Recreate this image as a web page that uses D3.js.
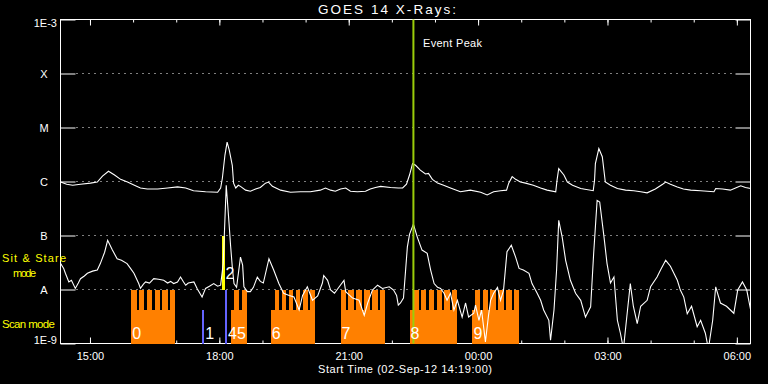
<!DOCTYPE html>
<html>
<head>
<meta charset="utf-8">
<script src="https://cdn.jsdelivr.net/npm/d3@7"></script>
<style>
  html, body { margin: 0; padding: 0; background: #000; }
  svg { display: block; }
  text { font-family: "Liberation Sans", Arial, sans-serif; }
</style>
</head>
<body>
<svg id="chart" width="768" height="384"></svg>
<script>
// ---------------- DATA ----------------
// times in hours since 2012-09-02 00:00 UT, values are log10 flux (W/m^2)
const startHour = 14 + 19 / 60;
const endHour = 30 + 19 / 60;

const longChannel = [
  [14.32,-6.01],[14.46,-6.05],[14.60,-6.07],[14.78,-6.05],[15.01,-6.03],[15.17,-6.01],[15.29,-5.90],[15.43,-5.81],
  [15.57,-5.88],[15.71,-5.96],[15.87,-6.01],[16.03,-6.07],[16.17,-6.12],[16.33,-6.14],[16.57,-6.14],[16.80,-6.12],
  [17.03,-6.10],[17.22,-6.12],[17.40,-6.17],[17.68,-6.19],[17.96,-6.20],[18.03,-6.12],[18.07,-5.94],[18.13,-5.51],
  [18.18,-5.27],[18.23,-5.42],[18.30,-5.70],[18.33,-6.03],[18.38,-6.12],[18.44,-6.07],[18.49,-6.09],[18.61,-6.16],
  [18.72,-6.18],[18.84,-6.14],[18.95,-6.11],[19.07,-6.03],[19.14,-6.01],[19.23,-6.09],[19.42,-6.16],[19.65,-6.20],
  [19.88,-6.19],[20.11,-6.19],[20.34,-6.16],[20.46,-6.12],[20.58,-6.16],[20.69,-6.18],[20.81,-6.14],[20.93,-6.12],
  [21.04,-6.18],[21.20,-6.19],[21.39,-6.18],[21.50,-6.14],[21.62,-6.11],[21.74,-6.09],[21.97,-6.11],[22.15,-6.12],
  [22.25,-6.12],[22.34,-6.05],[22.41,-5.88],[22.48,-5.67],[22.55,-5.70],[22.66,-5.79],[22.78,-5.86],[22.85,-5.85],
  [22.94,-5.96],[23.06,-6.03],[23.20,-6.07],[23.36,-6.12],[23.59,-6.19],[23.82,-6.16],[24.06,-6.20],[24.21,-6.25],
  [24.36,-6.19],[24.52,-6.17],[24.66,-6.16],[24.71,-6.03],[24.79,-5.91],[24.87,-5.96],[24.98,-6.01],[25.10,-6.03],
  [25.28,-6.07],[25.45,-6.12],[25.60,-6.16],[25.80,-6.19],[25.83,-5.98],[25.87,-5.76],[25.99,-5.88],[26.07,-6.01],
  [26.19,-6.07],[26.38,-6.13],[26.67,-6.17],[26.70,-5.98],[26.72,-5.67],[26.80,-5.39],[26.88,-5.54],[26.95,-6.01],
  [27.07,-6.07],[27.23,-6.13],[27.42,-6.16],[27.61,-6.17],[27.77,-6.19],[27.92,-6.21],[28.11,-6.14],[28.28,-6.05],
  [28.35,-6.01],[28.46,-6.05],[28.62,-6.10],[28.76,-6.14],[28.93,-6.16],[29.16,-6.17],[29.47,-6.19],[29.51,-6.13],
  [29.67,-6.14],[29.85,-6.16],[29.97,-6.12],[30.09,-6.08],[30.20,-6.11],[30.32,-6.13]
];

const shortChannel = [
  [14.32,-7.52],[14.39,-7.61],[14.43,-7.70],[14.51,-7.86],[14.57,-7.83],[14.66,-7.98],[14.73,-7.88],[14.78,-7.80],
  [14.87,-7.75],[14.94,-7.70],[15.06,-7.66],[15.17,-7.64],[15.24,-7.52],[15.34,-7.31],[15.41,-7.09],[15.52,-7.27],
  [15.63,-7.43],[15.73,-7.46],[15.86,-7.52],[15.94,-7.61],[16.02,-7.70],[16.13,-7.89],[16.17,-7.98],[16.24,-7.90],
  [16.29,-7.86],[16.38,-7.88],[16.48,-7.80],[16.59,-7.81],[16.71,-7.83],[16.80,-7.88],[16.87,-7.85],[16.94,-7.89],
  [17.03,-7.86],[17.10,-7.77],[17.17,-7.86],[17.22,-7.92],[17.28,-7.88],[17.41,-7.86],[17.49,-7.99],[17.60,-8.14],
  [17.68,-7.98],[17.77,-7.94],[17.87,-7.89],[17.96,-7.94],[18.03,-7.92],[18.09,-7.52],[18.12,-6.90],[18.16,-6.07],
  [18.22,-6.72],[18.26,-7.18],[18.30,-7.58],[18.34,-7.89],[18.40,-7.96],[18.49,-7.40],[18.54,-7.55],[18.57,-7.95],
  [18.65,-8.04],[18.72,-8.04],[18.79,-7.96],[18.88,-7.77],[18.95,-7.85],[19.02,-7.88],[19.15,-7.43],[19.26,-7.64],
  [19.38,-7.89],[19.49,-8.07],[19.62,-8.11],[19.73,-8.14],[19.85,-8.38],[19.93,-8.11],[20.04,-7.95],[20.16,-8.20],
  [20.28,-8.12],[20.39,-7.88],[20.42,-7.74],[20.51,-7.83],[20.58,-8.01],[20.67,-8.07],[20.78,-7.95],[20.89,-7.83],
  [20.93,-8.04],[21.09,-8.16],[21.24,-8.20],[21.36,-8.48],[21.44,-8.25],[21.55,-8.01],[21.67,-7.92],[21.78,-7.98],
  [21.94,-7.95],[22.04,-8.01],[22.11,-8.11],[22.15,-8.29],[22.20,-8.25],[22.27,-8.16],[22.36,-7.21],[22.41,-6.98],
  [22.50,-6.79],[22.59,-7.03],[22.70,-7.27],[22.82,-7.33],[22.90,-7.64],[22.98,-7.89],[23.06,-7.96],[23.13,-7.98],
  [23.21,-8.07],[23.28,-8.20],[23.36,-8.07],[23.44,-8.38],[23.52,-8.20],[23.63,-8.51],[23.71,-8.25],[23.78,-8.51],
  [23.90,-8.44],[23.94,-8.29],[24.02,-8.57],[24.08,-8.38],[24.17,-8.97],[24.24,-8.49],[24.29,-8.20],[24.36,-8.07],
  [24.45,-7.96],[24.52,-8.20],[24.59,-8.01],[24.67,-7.30],[24.77,-7.18],[24.87,-7.40],[24.95,-7.61],[25.05,-7.64],
  [25.18,-7.70],[25.25,-7.89],[25.37,-8.07],[25.45,-8.20],[25.52,-8.38],[25.64,-8.57],[25.68,-8.94],[25.76,-8.38],
  [25.82,-7.64],[25.87,-6.72],[25.95,-7.03],[26.03,-7.46],[26.14,-7.83],[26.26,-8.07],[26.38,-8.20],[26.49,-8.51],
  [26.61,-8.32],[26.68,-7.33],[26.76,-6.35],[26.82,-6.38],[26.92,-7.03],[26.99,-7.52],[27.07,-7.88],[27.15,-7.77],
  [27.23,-8.57],[27.30,-8.81],[27.37,-9.10],[27.44,-8.57],[27.53,-7.89],[27.60,-8.31],[27.69,-8.63],[27.77,-8.31],
  [27.92,-8.20],[28.00,-7.95],[28.15,-7.77],[28.23,-7.64],[28.35,-7.46],[28.46,-7.57],[28.62,-7.83],[28.69,-8.01],
  [28.77,-8.14],[28.85,-8.45],[28.95,-8.31],[29.08,-8.69],[29.16,-8.57],[29.27,-8.81],[29.34,-9.10],[29.44,-8.57],
  [29.51,-7.95],[29.62,-8.25],[29.76,-8.31],[29.93,-8.44],[30.02,-8.01],[30.13,-7.86],[30.23,-8.01],[30.32,-8.38]
];

// y-axis tick values and labels
const yTickValues = [1e-9, 1e-8, 1e-7, 1e-6, 1e-5, 1e-4, 1e-3];
const yTickLabels = ["1E-9", "A", "B", "C", "M", "X", "1E-3"];
const gridLevels = [1e-8, 1e-7, 1e-6, 1e-5, 1e-4];

// Scan-mode observations (orange): start, end, start of comb teeth, number of teeth, label
const scanStart  = [15.96, 18.26, 19.19, 20.81, 22.41, 23.87];
const scanEnd    = [16.98, 18.63, 20.21, 21.85, 23.52, 24.96];
const scanTeethStart = [15.96, 18.35, 19.28, 20.81, 22.50, 23.92];
const scanTeeth  = [6, 2, 6, 6, 6, 6];
const scanLabels = ["0", "5", "6", "7", "8", "9"];

// Other observations (blue), short and tall
const blueStart  = [17.59, 18.12];
const blueEnd    = [17.65, 18.18];
const blueTall   = [false, true];
const blueLabels = ["1", "4"];

// Sit & stare observation (yellow)
const stareStart = [18.07];
const stareEnd   = [18.12];
const stareLabels = ["2"];

const eventPeakHour = 22.50;

const title = "GOES 14 X-Rays:";
const xTitle = "Start Time (02-Sep-12 14:19:00)";

// ---------------- CHART ----------------
const base = Date.UTC(2012, 8, 2);
const toDate = h => new Date(base + h * 3600e3);

const svg = d3.select("#chart");
svg.append("rect").attr("width", 768).attr("height", 384).attr("fill", "#000");

const L = 60.5, R = 750.5, T = 19.5, B = 343.5;
const x = d3.scaleUtc().domain([toDate(startHour), toDate(endHour)]).range([L, R]);
const y = d3.scaleLog().domain([1e-9, 1e-3]).range([B, T]);

svg.append("defs").append("clipPath").attr("id", "plotclip")
  .append("rect").attr("x", L).attr("y", T).attr("width", R - L).attr("height", B - T);

// Grid
svg.append("g").selectAll("line").data(gridLevels).join("line")
  .attr("x1", L + 16).attr("x2", R - 15)
  .attr("y1", d => y(d)).attr("y2", d => y(d))
  .attr("stroke", "#fff").attr("stroke-width", 1).attr("stroke-dasharray", "1 5");

// Axes
function styleAxis(g) {
  g.select(".domain").remove();
  g.selectAll("line").attr("stroke", "#fff");
  g.selectAll("text").attr("fill", "#fff").style("font-size", "11px")
    .style("font-family", "'Liberation Sans', Arial, sans-serif");
}
const yLabelMap = new Map(yTickValues.map((v, i) => [v, yTickLabels[i]]));

const gLeft = svg.append("g").attr("transform", `translate(${L},0)`)
  .call(d3.axisLeft(y).tickValues(yTickValues).tickSize(-15).tickPadding(3.5)
        .tickFormat(d => yLabelMap.get(d)))
  .call(styleAxis);
gLeft.selectAll(".tick text").each(function(d) {
  const t = d3.select(this);
  if (d === 1e-3) { t.attr("dy", "0.66em"); }
  else if (d === 1e-9) { t.attr("dy", "0em"); }
  else { t.attr("text-anchor", "middle").attr("x", -16.5).attr("dy", "0.33em"); }
});

svg.append("g").attr("transform", `translate(${R},0)`)
  .call(d3.axisRight(y).tickValues(yTickValues).tickSize(-15).tickFormat(""))
  .call(styleAxis);

// top and bottom time axes
svg.append("g").attr("transform", `translate(0,${T})`)
  .call(d3.axisTop(x).ticks(d3.utcHour.every(1)).tickSize(-3).tickFormat(""))
  .call(styleAxis);
svg.append("g").attr("transform", `translate(0,${T})`)
  .call(d3.axisTop(x).ticks(d3.utcHour.every(3)).tickSize(-6).tickFormat(""))
  .call(styleAxis);
svg.append("g").attr("transform", `translate(0,${B})`)
  .call(d3.axisBottom(x).ticks(d3.utcHour.every(1)).tickSize(-3).tickFormat(""))
  .call(styleAxis);
svg.append("g").attr("transform", `translate(0,${B})`)
  .call(d3.axisBottom(x).ticks(d3.utcHour.every(3)).tickSize(-6).tickPadding(8.5)
        .tickFormat(d3.utcFormat("%H:%M")))
  .call(styleAxis);

// Frame
svg.append("rect").attr("x", L).attr("y", T).attr("width", R - L).attr("height", B - T)
  .attr("fill", "none").attr("stroke", "#fff").attr("stroke-width", 1);

// Observation bars
const ORANGE = "#ff8000", BLUE = "#6464ff", YELLOW = "#ffff00";
const baseTopFlux = Math.pow(10, -8.38);
const gBars = svg.append("g").attr("shape-rendering", "crispEdges");
const toothGap = 2.4;

scanStart.forEach((s, i) => {
  const x0 = x(toDate(s)), x1 = x(toDate(scanEnd[i]));
  gBars.append("rect").attr("x", x0).attr("width", x1 - x0)
    .attr("y", y(baseTopFlux)).attr("height", B - y(baseTopFlux)).attr("fill", ORANGE);
  const tx0 = x(toDate(scanTeethStart[i]));
  const n = scanTeeth[i];
  const w = (x1 - tx0 - (n - 1) * toothGap) / n;
  d3.range(n).forEach(k => {
    gBars.append("rect").attr("x", tx0 + k * (w + toothGap)).attr("width", w)
      .attr("y", y(1e-8)).attr("height", B - y(1e-8)).attr("fill", ORANGE);
  });
});
blueStart.forEach((s, i) => {
  const x0 = x(toDate(s)), x1 = x(toDate(blueEnd[i]));
  const top = blueTall[i] ? y(1e-8) : y(baseTopFlux);
  gBars.append("rect").attr("x", x0).attr("width", x1 - x0)
    .attr("y", top).attr("height", B - top).attr("fill", BLUE);
});
stareStart.forEach((s, i) => {
  const x0 = x(toDate(s)), x1 = x(toDate(stareEnd[i]));
  gBars.append("rect").attr("x", x0).attr("width", x1 - x0)
    .attr("y", y(1e-7)).attr("height", y(1e-8) - y(1e-7)).attr("fill", YELLOW);
});

// Curves
const line = d3.line()
  .x(d => x(toDate(d[0])))
  .y(d => y(Math.pow(10, d[1])));
const gCurves = svg.append("g").attr("clip-path", "url(#plotclip)");
[longChannel, shortChannel].forEach(series => {
  gCurves.append("path").datum(series).attr("d", line)
    .attr("fill", "none").attr("stroke", "#fff").attr("stroke-width", 1.1)
    .attr("stroke-linejoin", "miter");
});

// Event peak line
const xp = x(toDate(eventPeakHour));
svg.append("line").attr("x1", xp).attr("x2", xp).attr("y1", T).attr("y2", B)
  .attr("stroke", "#9acd0a").attr("stroke-width", 2);
svg.append("text").attr("x", 423).attr("y", 47).attr("fill", "#fff")
  .style("font-size", "11px").attr("textLength", 59).text("Event Peak");

// Observation labels
const bottomLabels = [];
scanStart.forEach((s, i) => bottomLabels.push({ t: s, label: scanLabels[i] }));
blueStart.forEach((s, i) => bottomLabels.push({ t: blueEnd[i], label: blueLabels[i] }));
bottomLabels.sort((a, b) => a.t - b.t);
let lastRight = -Infinity;
bottomLabels.forEach(d => {
  let lx = Math.max(x(toDate(d.t)) + 1, lastRight);
  const t = svg.append("text").attr("x", lx).attr("y", 338.5).attr("fill", "#fff")
    .style("font-size", "16px").style("font-weight", "300").text(d.label);
  lastRight = lx + t.node().getComputedTextLength();
});
stareStart.forEach((s, i) => {
  svg.append("text").attr("x", x(toDate(stareEnd[i])) + 1).attr("y", 278.5).attr("fill", "#fff")
    .style("font-size", "16px").style("font-weight", "300").text(stareLabels[i]);
});

// Titles & side labels
svg.append("text").attr("x", 318).attr("y", 14).attr("fill", "#fff")
  .style("font-size", "13.5px").attr("textLength", 138).text(title);
svg.append("text").attr("x", 318).attr("y", 372.5).attr("fill", "#fff")
  .style("font-size", "11px").attr("textLength", 174).text(xTitle);

svg.append("text").attr("x", 2).attr("y", 262).attr("fill", YELLOW)
  .style("font-size", "11px").attr("textLength", 64).text("Sit & Stare");
svg.append("text").attr("x", 13).attr("y", 276.5).attr("fill", YELLOW)
  .style("font-size", "11px").attr("textLength", 23).text("mode");
svg.append("text").attr("x", 2).attr("y", 328).attr("fill", YELLOW)
  .style("font-size", "11.5px").attr("textLength", 53).text("Scan mode");
</script>
</body>
</html>
